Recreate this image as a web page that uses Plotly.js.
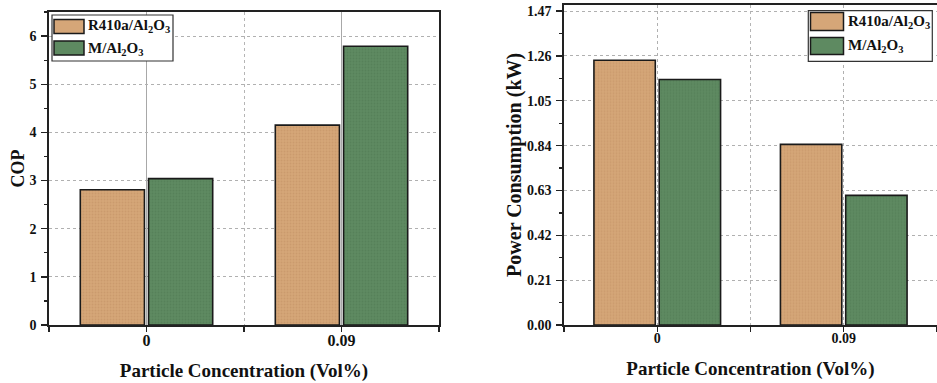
<!DOCTYPE html>
<html><head><meta charset="utf-8">
<script src="https://cdn.plot.ly/plotly-3.0.1.min.js"></script>
<style>html,body{margin:0;padding:0;background:#fff}#chart{width:937px;height:383px}</style>
</head><body><div id="chart"></div>
<script>
const categories = ['0', '0.09'];
const seriesNames = ['R410a/Al<sub>2</sub>O<sub>3</sub>', 'M/Al<sub>2</sub>O<sub>3</sub>'];
const copR410a = [2.81, 4.15];
const copM = [3.04, 5.79];
const powerR410a = [1.24, 0.846];
const powerM = [1.15, 0.607];
const copTicks = [0, 1, 2, 3, 4, 5, 6];
const powerTicks = [0, 0.21, 0.42, 0.63, 0.84, 1.05, 1.26, 1.47];
const xTitle = 'Particle Concentration (Vol%)';
const copTitle = 'COP';
const powerTitle = 'Power Consumption (kW)';

const W = 937, H = 383;
const px = v => v / W;
const py = v => 1 - v / H;
const FONT = '"Liberation Serif", "Times New Roman", serif';
const colors = ['#D5A678', '#5E8A61'];
const dots = ['#C08F62', '#4D7751'];
const xIdx = categories.map((c, i) => i);

function barTrace(y, s, xa, ya) {
  return {
    type: 'bar', x: xIdx, y: y, name: seriesNames[s], xaxis: xa, yaxis: ya, showlegend: false,
    marker: {
      color: colors[s],
      line: {color: '#1a1a1a', width: 1.6},
      pattern: {shape: '.', size: 3, solidity: 0.3, fgcolor: dots[s], fillmode: 'overlay'}
    },
    hoverinfo: 'x+y'
  };
}

const data = [
  barTrace(copR410a, 0, 'x', 'y'),
  barTrace(copM, 1, 'x', 'y'),
  barTrace(powerR410a, 0, 'x2', 'y2'),
  barTrace(powerM, 1, 'x2', 'y2')
];

const tickFontX = {family: FONT, size: 16, color: '#111', weight: 'bold'};
const tickFontY = {family: FONT, size: 14, color: '#111', weight: 'bold'};
const titleFont = {family: FONT, size: 19, color: '#111', weight: 'bold'};

function xAxis(domain, anchor, majorDash, gridCol, tf) {
  return {
    domain: domain, anchor: anchor, range: [-0.5, 1.5],
    tickmode: 'array', tickvals: xIdx, ticktext: categories,
    ticks: 'outside', ticklen: 5, tickwidth: 1.3, tickcolor: '#222',
    showline: true, linecolor: '#222', linewidth: 1.6, mirror: true,
    showgrid: true, gridcolor: gridCol, gridwidth: 1, griddash: majorDash,
    zeroline: false, tickfont: tf, ticklabelstandoff: -5,
    minor: {tickmode: 'array', tickvals: [-0.5, 0.5, 1.5], ticks: 'outside', ticklen: 5, tickwidth: 1.3, tickcolor: '#222',
            showgrid: true, gridcolor: '#b5b5b5', griddash: 'dot', gridwidth: 1},
    title: {text: xTitle, font: titleFont, standoff: 16},
    fixedrange: true
  };
}

function yAxis(domain, anchor, range, ticks, minorStep, fmt, title, tsize, standoff) {
  return {
    domain: domain, anchor: anchor, range: range,
    tickmode: 'array', tickvals: ticks, tickformat: fmt,
    ticks: 'outside', ticklen: 6, tickwidth: 1.3, tickcolor: '#222',
    showline: true, linecolor: '#222', linewidth: 1.6, mirror: true,
    showgrid: true, gridcolor: '#b0b0b0', griddash: 'dot', gridwidth: 1,
    zeroline: false, tickfont: tickFontY, ticklabelstandoff: 2,
    minor: {tickmode: 'linear', tick0: 0, dtick: minorStep, ticks: 'outside', ticklen: 3.5, tickwidth: 1.2, tickcolor: '#222', showgrid: false},
    title: {text: title, font: Object.assign({}, titleFont, {size: tsize}), standoff: standoff},
    fixedrange: true
  };
}

// custom legends (swatch + label) placed in paper coordinates
const shapes = [];
const annotations = [];
function legend(box, sw, textX, textY) {
  shapes.push({type: 'rect', xref: 'paper', yref: 'paper', x0: px(box[0]), x1: px(box[1]), y0: py(box[3]), y1: py(box[2]),
               line: {color: '#333', width: 1.2}, fillcolor: 'rgba(255,255,255,1)', layer: 'above'});
  for (let s = 0; s < 2; s++) {
    shapes.push({type: 'rect', xref: 'paper', yref: 'paper', x0: px(sw[0]), x1: px(sw[1]), y0: py(sw[2 + 2 * s + 1]), y1: py(sw[2 + 2 * s]),
                 line: {color: '#1a1a1a', width: 1.5}, fillcolor: colors[s], layer: 'above'});
    annotations.push({xref: 'paper', yref: 'paper', x: px(textX), y: py(textY[s]), xanchor: 'left', yanchor: 'middle',
                      text: seriesNames[s], showarrow: false, font: {family: FONT, size: 15, color: '#111', weight: 'bold'}});
  }
}
legend([52, 173, 15, 61], [54, 84, 19.5, 33.5, 41, 55], 86, [26, 48.5]);
legend([808.3, 932.3, 10.7, 61.3], [810.5, 843.5, 12.5, 30.5, 37.5, 54.5], 846, [21.5, 46]);

const layout = {
  width: W, height: H,
  margin: {l: 0, r: 0, t: 0, b: 0},
  font: {family: FONT},
  paper_bgcolor: '#fff', plot_bgcolor: '#fff',
  barmode: 'group', bargap: 0.3, bargroupgap: 0.06,
  xaxis: xAxis([px(49), px(439)], 'y', 'solid', '#a8a8a8', tickFontX),
  yaxis: yAxis([py(325), py(12)], 'x', [0, 6.5], copTicks, 0.5, 'd', copTitle, 18, 0),
  xaxis2: xAxis([px(564), 1], 'y2', 'dot', '#b0b0b0', Object.assign({}, tickFontX, {size: 14})),
  yaxis2: yAxis([py(325), py(4.7)], 'x2', [0, 1.5], powerTicks, 0.105, '.2f', powerTitle, 20, 0),
  shapes: shapes, annotations: annotations,
  showlegend: false
};

Plotly.newPlot('chart', data, layout, {displayModeBar: false, staticPlot: true});
</script></body></html>
